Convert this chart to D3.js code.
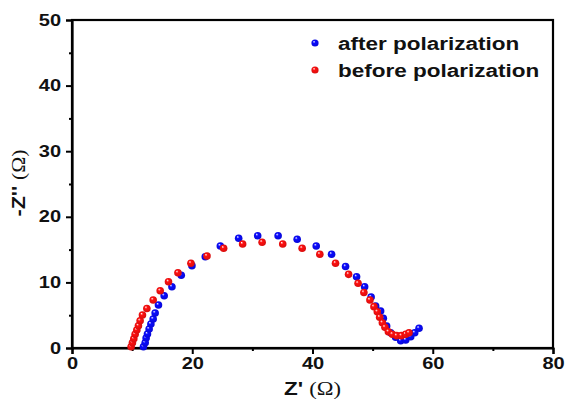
<!DOCTYPE html>
<html><head><meta charset="utf-8">
<script src="https://cdn.jsdelivr.net/npm/d3@7"></script>
<style>body{margin:0;background:#fff}svg{display:block}</style>
</head><body>
<svg id="c" width="567" height="404"></svg>
<script>
const seriesNames = ["after polarization", "before polarization"];
const seriesColors = ["#0a0aff", "#ff1010"];
const afterX = [11.88,12.17,12.33,12.55,12.83,13.12,13.5,13.83,14.38,15.33,16.62,18.17,19.95,22.17,24.67,27.72,30.88,34.28,37.45,40.62,43.17,45.5,47.33,48.67,49.75,50.5,51.33,51.78,52.33,53.0,53.83,54.67,55.5,56.33,57.0,57.72];
const afterY = [0.2,0.81,1.52,2.13,2.9,3.66,4.42,5.34,6.55,7.97,9.34,11.08,12.55,13.92,15.55,16.72,17.12,17.12,16.57,15.55,14.28,12.42,10.87,9.34,7.77,6.4,5.64,4.53,3.35,2.33,1.63,1.11,1.22,1.72,2.33,3.0];
const beforeX = [9.83,10.05,10.28,10.5,10.78,11.05,11.33,11.72,12.45,13.5,14.67,16.05,17.62,19.78,22.45,25.22,28.38,31.62,35.05,38.28,41.22,43.83,46.0,47.58,48.55,49.55,50.22,50.78,51.17,51.62,52.05,52.62,53.28,54.0,54.78,55.5,56.05];
const beforeY = [0.2,0.81,1.42,2.09,2.74,3.4,4.16,5.03,6.02,7.32,8.73,10.11,11.48,12.91,14.02,15.2,15.85,16.11,15.85,15.2,14.28,12.91,11.23,9.86,8.46,7.32,6.3,5.53,4.68,3.86,3.16,2.48,2.09,1.88,1.88,2.09,2.33];
const xTicks = [0,20,40,60,80];
const yTicks = [0,10,20,30,40,50];

const svg = d3.select("#c");
const L=72, R=553, T=20, B=348;
const x = d3.scaleLinear().domain([0,80]).range([L,R]);
const y = d3.scaleLinear().domain([0,50]).range([B,T]);

const defs = svg.append("defs");
seriesColors.forEach((c,i)=>{
  const g = defs.append("radialGradient").attr("id","g"+i).attr("cx","0.5").attr("cy","0.5").attr("r","0.6").attr("fx","0.35").attr("fy","0.3");
  g.append("stop").attr("offset","0").attr("stop-color","#fff");
  g.append("stop").attr("offset","0.3").attr("stop-color",c);
  g.append("stop").attr("offset","1").attr("stop-color",d3.color(c).darker(0.6));
});

const font = "'Liberation Sans', Arial, sans-serif";
const serif = "'Liberation Serif', 'Times New Roman', serif";
function stretch(sel, f){
  sel.each(function(){
    const w = this.getComputedTextLength();
    d3.select(this).attr("textLength", w*f).attr("lengthAdjust","spacingAndGlyphs");
  });
}

// frame
svg.append("rect").attr("x",L).attr("y",T).attr("width",R-L).attr("height",B-T)
  .attr("fill","none").attr("stroke","#000").attr("stroke-width",2.2);

// axes
svg.append("g").attr("transform",`translate(0,${B})`)
  .call(d3.axisBottom(x).tickValues(xTicks).tickSize(6).tickPadding(4).tickFormat(d3.format("d")));
svg.append("g").attr("transform",`translate(0,${B})`)
  .call(d3.axisBottom(x).tickValues([10,30,50,70]).tickSize(3).tickFormat(""))
  .call(g=>g.select(".domain").remove());
svg.append("g").attr("transform",`translate(${L},0)`)
  .call(d3.axisLeft(y).tickValues(yTicks).tickSize(6).tickPadding(5).tickFormat(d3.format("d")));
svg.append("g").attr("transform",`translate(${L},0)`)
  .call(d3.axisLeft(y).tickValues([5,15,25,35,45]).tickSize(3).tickFormat(""))
  .call(g=>g.select(".domain").remove());
svg.selectAll(".domain").attr("stroke-width",2.2);
svg.selectAll(".tick line").attr("stroke-width",2);
const tt = svg.selectAll(".tick text").attr("font-family",font).attr("font-weight","bold").attr("font-size",16).attr("fill","#111");
stretch(tt, 1.25);

// axis titles
const xt = svg.append("text").attr("x",(L+R)/2).attr("y",395).attr("text-anchor","middle").attr("font-size",18).attr("fill","#111");
xt.append("tspan").attr("font-family",font).attr("font-weight","bold").text("Z' ");
xt.append("tspan").attr("font-family",serif).text("(Ω)");
stretch(xt, 1.25);
const yt = svg.append("text").attr("transform",`translate(25,183) rotate(-90)`).attr("text-anchor","middle").attr("font-size",18).attr("fill","#111");
yt.append("tspan").attr("font-family",font).attr("font-weight","bold").text("-Z'' ");
yt.append("tspan").attr("font-family",serif).text("(Ω)");
stretch(yt, 1.2);

// data
const data = [afterX.map((v,i)=>[v,afterY[i]]), beforeX.map((v,i)=>[v,beforeY[i]])];
data.forEach((pts,i)=>{
  svg.append("g").selectAll("circle").data(pts).join("circle")
    .attr("cx",d=>x(d[0])).attr("cy",d=>y(d[1])).attr("r",3.8)
    .attr("fill",`url(#g${i})`);
});

// legend
seriesNames.forEach((n,i)=>{
  const yy = 43 + i*27;
  svg.append("circle").attr("cx",315).attr("cy",yy).attr("r",3.6).attr("fill",`url(#g${i})`);
  const t = svg.append("text").attr("x",338).attr("y",yy+7).attr("font-family",font).attr("font-weight","bold")
    .attr("font-size",18).attr("fill","#111").text(n);
  stretch(t, 1.25);
});
</script>
</body></html>
